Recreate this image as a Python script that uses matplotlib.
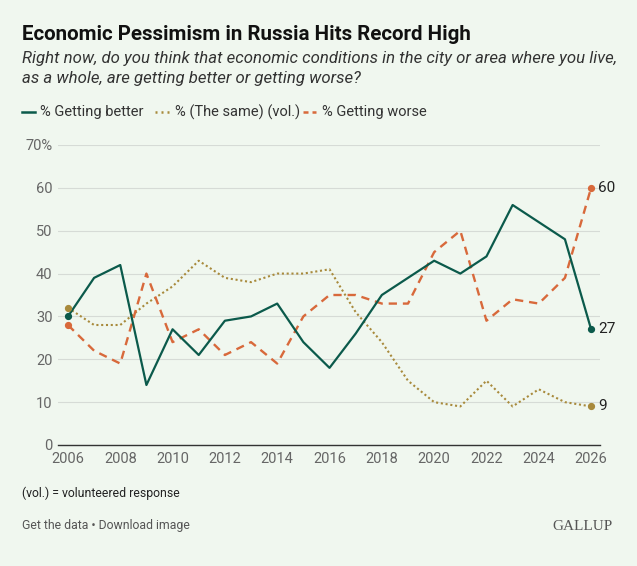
import matplotlib
matplotlib.use("Agg")
import matplotlib.pyplot as plt

# Survey years and results (%)
years = list(range(2006, 2027))
better = [30, 39, 42, 14, 27, 21, 29, 30, 33, 24, 18, 26, 35, 39, 43, 40, 44, 56, 52, 48, 27]
same = [32, 28, 28, 33, 37, 43, 39, 38, 40, 40, 41, 31, 24, 15, 10, 9, 15, 9, 13, 10, 9]
worse = [28, 22, 19, 40, 24, 27, 21, 24, 19, 30, 35, 35, 33, 33, 45, 50, 29, 34, 33, 39, 60]

xticks = list(range(2006, 2027, 2))
yticks = [0, 10, 20, 30, 40, 50, 60, 70]
ytick_labels = ["0", "10", "20", "30", "40", "50", "60", "70%"]

bg = "#f0f7ef"
c_better = "#0b5a4b"
c_same = "#a88a3c"
c_worse = "#d8693b"
font = "Roboto"
dot_ls = (0, (1, 1.3))
dash_ls = (0, (3.5, 2.5))

fig = plt.figure(figsize=(6.37, 5.66), dpi=100, facecolor=bg)
ax = fig.add_axes([58 / 637, 1 - 445 / 566, 542 / 637, 300 / 566], facecolor=bg)

ax.plot(years, better, color=c_better, lw=1.6, clip_on=False, zorder=4)
ax.plot(years, same, color=c_same, lw=1.5, ls=dot_ls, clip_on=False, zorder=3)
ax.plot(years, worse, color=c_worse, lw=1.7, ls=dash_ls, clip_on=False, zorder=3)

# end-point markers
for vals, col, z in [(same, c_same, 5), (worse, c_worse, 5), (better, c_better, 6)]:
    ax.plot([years[0], years[-1]], [vals[0], vals[-1]], "o", color=col, ms=4.2,
            clip_on=False, zorder=z)
    ax.annotate(str(vals[-1]), (years[-1], vals[-1]), xytext=(5, 0),
                textcoords="offset points", va="center", ha="left",
                fontsize=11, color="#222222", family=font)

ax.set_xlim(2005.62, 2026.34)
ax.set_ylim(0, 70)
ax.set_xticks(xticks)
ax.set_yticks(yticks)
ax.set_yticklabels(ytick_labels)
ax.tick_params(length=0, labelsize=10.5, labelcolor="#666666", pad=4)
ax.tick_params(axis="x", pad=5)
for lab in ax.get_xticklabels() + ax.get_yticklabels():
    lab.set_family(font)
ax.grid(axis="y", color="#d6dbd6", lw=0.8)
ax.set_axisbelow(True)
for s in ["top", "right", "left"]:
    ax.spines[s].set_visible(False)
ax.spines["bottom"].set_color("#333333")
ax.spines["bottom"].set_linewidth(1.0)

# titles
fig.text(22 / 637, 1 - 35 / 566, "Economic Pessimism in Russia Hits Record High",
         fontsize=14.8, fontweight="bold", color="#111111", family=font, va="center")
fig.text(22 / 637, 1 - 58 / 566,
         "Right now, do you think that economic conditions in the city or area where you live,",
         fontsize=12.1, style="italic", color="#333333", family=font, va="center")
fig.text(22 / 637, 1 - 79 / 566, "as a whole, are getting better or getting worse?",
         fontsize=12.1, style="italic", color="#333333", family=font, va="center")

# legend
legend_items = [("% Getting better", c_better, "-", 22, 35, 40),
                ("% (The same) (vol.)", c_same, (0, (0.8, 1.6)), 155, 170, 175),
                ("% Getting worse", c_worse, (0, (2, 1.6)), 303, 316, 322)]
for label, col, ls, x0, x1, xt in legend_items:
    fig.add_artist(plt.Line2D([x0 / 637, x1 / 637], [1 - 112 / 566] * 2,
                              color=col, lw=1.8, ls=ls))
    fig.text(xt / 637, 1 - 112 / 566, label, fontsize=10.5, color="#333333",
             family=font, va="center")

# footer
fig.text(22 / 637, 1 - 493 / 566, "(vol.) = volunteered response", fontsize=8.8,
         color="#222222", family=font, va="center")
fig.text(22 / 637, 1 - 526 / 566, "Get the data \u2022 Download image", fontsize=8.8,
         color="#555555", family=font, va="center")
fig.text(613 / 637, 1 - 526 / 566, "GALLUP", fontsize=11, color="#555555",
         family="Liberation Serif", va="center", ha="right")

fig.savefig("out.png", dpi=100, facecolor=bg)
